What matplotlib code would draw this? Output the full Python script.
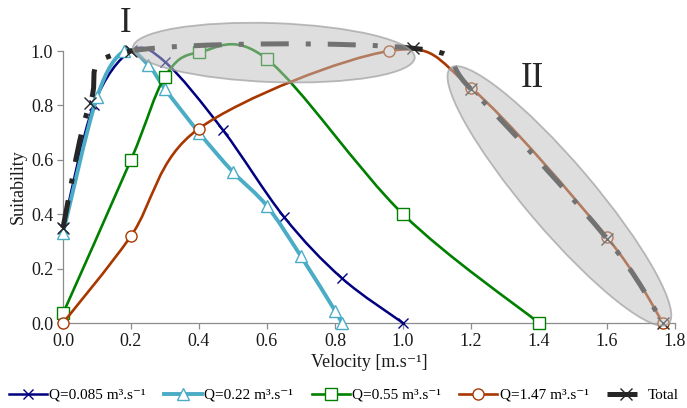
import numpy as np
import matplotlib
matplotlib.use('Agg')
import matplotlib.pyplot as plt
from matplotlib.path import Path
from matplotlib.patches import PathPatch, Ellipse
from matplotlib.lines import Line2D
import matplotlib.transforms as mtransforms

plt.rcParams['font.family'] = ['Liberation Serif', 'DejaVu Serif']

# ---- data ----
q1_x = [0.0, 0.09, 0.2, 0.3, 0.47, 0.65, 0.82, 1.0]
q1_y = [0.35, 0.80, 1.0, 0.96, 0.71, 0.39, 0.165, 0.0]

q2_x = [0.0, 0.1, 0.18, 0.25, 0.3, 0.4, 0.5, 0.6, 0.7, 0.8, 0.82]
q2_y = [0.33, 0.83, 1.0, 0.95, 0.86, 0.70, 0.555, 0.43, 0.245, 0.045, 0.0]

q3_x = [0.0, 0.2, 0.3, 0.4, 0.6, 1.0, 1.4]
q3_y = [0.035, 0.60, 0.905, 0.995, 0.97, 0.40, 0.0]

q4_x = [0.0, 0.2, 0.4, 0.96, 1.2, 1.6, 1.765]
q4_y = [0.0, 0.32, 0.715, 1.0, 0.865, 0.315, 0.0]

tot_x = [0.0, 0.08, 0.2, 1.03, 1.2, 1.6, 1.765]
tot_y = [0.35, 0.81, 1.0, 1.01, 0.86, 0.31, 0.0]

labels = ['Q=0.085 m³.s⁻¹', 'Q=0.22 m³.s⁻¹',
          'Q=0.55 m³.s⁻¹', 'Q=1.47 m³.s⁻¹', 'Total']
xticks = [0.0, 0.2, 0.4, 0.6, 0.8, 1.0, 1.2, 1.4, 1.6, 1.8]
yticks = [0.0, 0.2, 0.4, 0.6, 0.8, 1.0]

c_navy = '#000080'
c_lblue = '#4BACC6'
c_green = '#008000'
c_brown = '#A83800'
c_tot = '#262626'


def smooth_path(x, y):
    pts = np.column_stack([x, y]).astype(float)
    n = len(pts)
    verts = [pts[0]]
    codes = [Path.MOVETO]
    for i in range(n - 1):
        p0 = pts[i - 1] if i > 0 else pts[i]
        p1 = pts[i]
        p2 = pts[i + 1]
        p3 = pts[i + 2] if i + 2 < n else pts[i + 1]
        c1 = p1 + (p2 - p0) / 6.0
        c2 = p2 - (p3 - p1) / 6.0
        verts += [c1, c2, p2]
        codes += [Path.CURVE4] * 3
    return Path(verts, codes)


fig = plt.figure(figsize=(6.87, 4.08), dpi=100)
ax = fig.add_axes([63 / 687, 85 / 408, 612 / 687, 272 / 408])

series = [
    (q1_x, q1_y, c_navy, 1.8, 'x', 7, c_navy),
    (q2_x, q2_y, c_lblue, 2.8, '^', 9, 'white'),
    (q3_x, q3_y, c_green, 1.9, 's', 8, 'white'),
    (q4_x, q4_y, c_brown, 1.9, 'o', 8, 'white'),
]
handles = []
for i, (xs, ys, col, lw, mk, ms, mfc) in enumerate(series):
    pp = PathPatch(smooth_path(xs, ys), fill=False, edgecolor=col, lw=lw,
                   zorder=3 + i, clip_on=False, capstyle='butt')
    ax.add_patch(pp)
    ax.plot(xs, ys, ls='none', marker=mk, ms=ms, mfc=mfc, mec=col,
            mew=1.0, zorder=3.5 + i, clip_on=False)
    handles.append(Line2D([], [], color=col, lw=lw, marker=mk, ms=ms,
                          mfc=mfc, mec=col, mew=1.0))

tot_ls = (0, (5.6, 3.4, 1.0, 3.4))
pp = PathPatch(smooth_path(tot_x, tot_y), fill=False, edgecolor=c_tot, lw=3.6,
               linestyle=tot_ls, zorder=8, clip_on=False, capstyle='butt')
ax.add_patch(pp)
ax.plot(tot_x, tot_y, ls='none', marker='x', ms=9, mec=c_tot, mew=1.0,
        zorder=8.5, clip_on=False)
handles.append(Line2D([], [], color=c_tot, lw=3.6, linestyle=(0, (6.0, 2.0, 1.0, 2.0)),
                      marker='x', ms=8, mec=c_tot, mew=1.0))

# highlight ellipses (sizes in inches, centres in data coords)
for (cx, cy, w, h, ang) in [(0.62, 0.994, 2.82, 0.59, -2.0),
                            (1.46, 0.467, 3.36, 0.68, -49.6)]:
    tr = fig.dpi_scale_trans + mtransforms.ScaledTranslation(cx, cy, ax.transData)
    e = Ellipse((0, 0), w, h, angle=ang, transform=tr,
                facecolor=(0.75, 0.75, 0.75, 0.5),
                edgecolor=(0.62, 0.62, 0.62, 0.7), lw=1.3, zorder=20,
                clip_on=False)
    ax.add_patch(e)

ax.text(0.185, 1.10, 'I', fontsize=25, ha='center', va='center',
        color='#262626', clip_on=False)
ax.text(1.38, 0.90, 'II', fontsize=25, ha='center', va='center',
        color='#262626', clip_on=False)

ax.set_xlim(0, 1.8)
ax.set_ylim(0, 1.0)
ax.set_xticks(xticks)
ax.set_yticks(yticks)
ax.set_xticklabels([f'{v:.1f}' for v in xticks])
ax.set_yticklabels([f'{v:.1f}' for v in yticks])
for s in ['top', 'right']:
    ax.spines[s].set_visible(False)
for s in ['left', 'bottom']:
    ax.spines[s].set_color('#8c8c8c')
    ax.spines[s].set_linewidth(0.9)
ax.tick_params(direction='out', length=4, width=0.9, color='#8c8c8c',
               labelsize=13, labelcolor='#1a1a1a', pad=3)
ax.set_xlabel('Velocity [m.s⁻¹]', fontsize=13, color='#1a1a1a', labelpad=3)
ax.set_ylabel('Suitability', fontsize=13, color='#1a1a1a', labelpad=3)

fig.legend(handles, labels, loc='center', bbox_to_anchor=(0.5, 1 - 395 / 408),
           ncol=5, frameon=False, fontsize=11, handlelength=2.5,
           columnspacing=1.2, handletextpad=0.15, borderaxespad=0)

fig.savefig('out.png', dpi=100)
